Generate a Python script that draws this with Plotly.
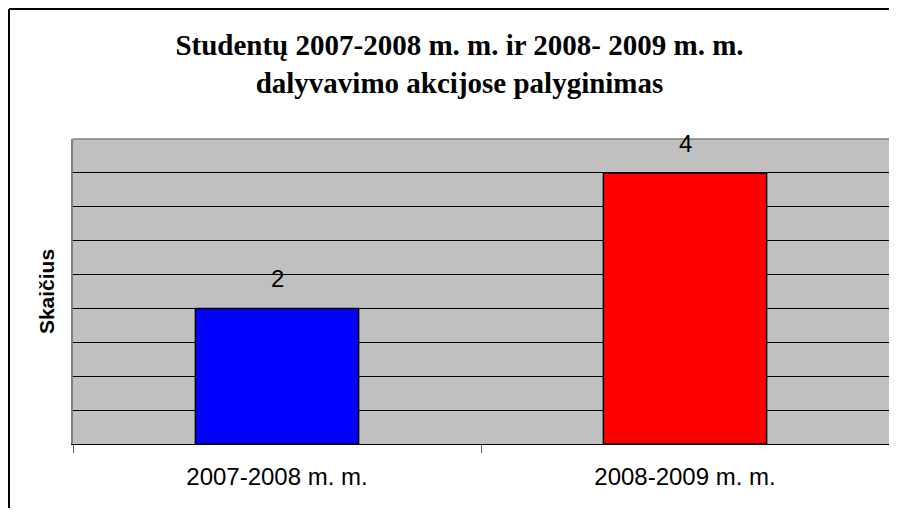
import plotly.graph_objects as go

categories = ["2007-2008 m. m.", "2008-2009 m. m."]
values = [2, 4]
colors = ["#0000FF", "#FF0000"]

title_text = "<b>Studentų 2007-2008 m. m. ir 2008- 2009 m. m.<br>dalyvavimo akcijose palyginimas</b>"
y_title = "Skaičius"

# The page body adds an 8px margin, so the figure is sized to fit the window.
W, H = 881, 500
L, T, R, B = 65, 131, 0, 64
pw, ph = W - L - R, H - T - B

fig = go.Figure()
fig.add_trace(go.Bar(
    x=categories, y=values,
    marker=dict(color=colors, line=dict(color="black", width=1.5)),
    width=0.4,
    hoverinfo="skip",
))

for c, v in zip(categories, values):
    fig.add_annotation(x=c, y=v, text=str(v), showarrow=False,
                       yanchor="bottom", yshift=14,
                       font=dict(family="Liberation Sans, Arial", size=24, color="black"))

bx0 = (1 - L) / pw
by1 = 1 + (T - 1) / ph

fig.update_layout(
    width=W, height=H,
    margin=dict(l=L, r=R, t=T, b=B, autoexpand=False),
    paper_bgcolor="white",
    plot_bgcolor="#C0C0C0",
    showlegend=False,
    title=dict(text=title_text, x=451.5 / W, xanchor="center", y=1 - 47 / H, yanchor="top",
               font=dict(family="Liberation Serif, Times New Roman", size=29, color="black")),
    xaxis=dict(
        type="category",
        showline=True, linecolor="black", linewidth=1,
        ticks="outside", tickson="boundaries", ticklen=8, tickcolor="#555555", tickwidth=1,
        showgrid=False,
        tickfont=dict(family="Liberation Sans, Arial", size=24, color="black"),
        ticklabelstandoff=11,
        range=[-0.5, 1.5],
    ),
    yaxis=dict(
        range=[0, 4.5], dtick=0.5, showticklabels=False, ticks="",
        showgrid=True, gridcolor="black", gridwidth=1, zeroline=False,
        showline=True, linecolor="#808080", linewidth=1.5, mirror=True,
        title=dict(text="<b>" + y_title + "</b>", standoff=11,
                   font=dict(family="Liberation Sans, Arial", size=21, color="black")),
    ),
    shapes=[
        dict(type="line", xref="paper", yref="paper", x0=0, x1=1, y0=1, y1=1,
             line=dict(color="#808080", width=1.5)),
        dict(type="line", xref="paper", yref="paper", x0=bx0, x1=1.2, y0=by1, y1=by1,
             line=dict(color="black", width=2), layer="above"),
        dict(type="line", xref="paper", yref="paper", x0=bx0, x1=bx0, y0=-0.5, y1=by1,
             line=dict(color="black", width=2), layer="above"),
    ],
)

fig.write_html("out.html")
